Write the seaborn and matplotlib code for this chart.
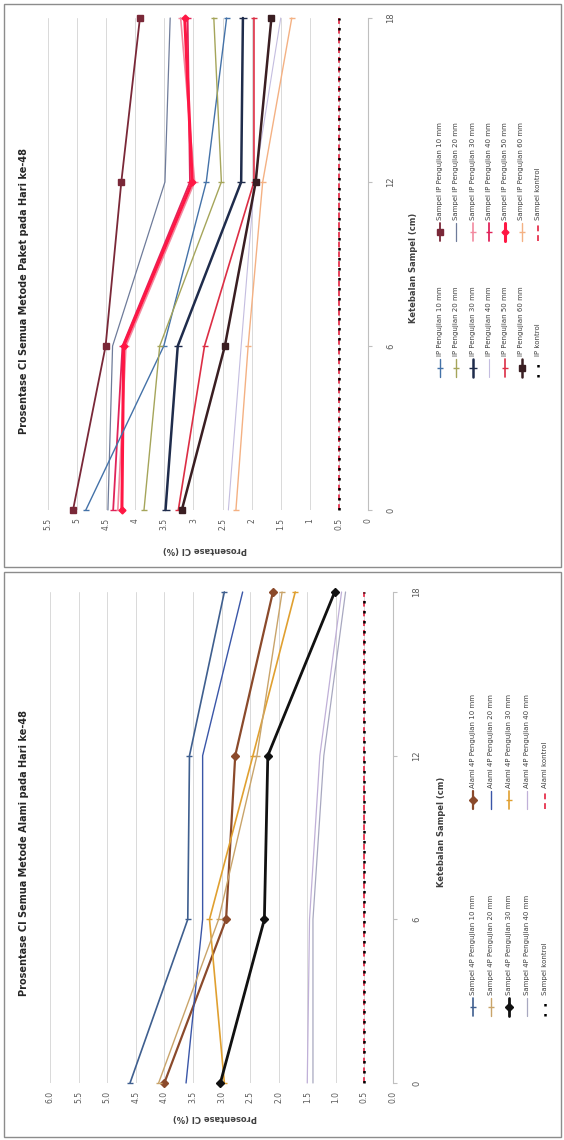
import numpy as np
import matplotlib
matplotlib.use("Agg")
import matplotlib.pyplot as plt
import seaborn as sns
from matplotlib.lines import Line2D
from matplotlib.patches import Rectangle

sns.set_style("white")
plt.rcParams["font.family"] = ["DejaVu Sans"]

# ketebalan (cm) - category axis
tebal = ["0", "6", "12", "18"]
posisi = [0, 1, 2, 3]

# value axis tick labels
paket_ticks = ["0", "0.5", "1", "1.5", "2", "2.5", "3", "3.5", "4", "4.5", "5", "5.5"]
alami_ticks = ["0.0", "0.5", "1.0", "1.5", "2.0", "2.5", "3.0", "3.5", "4.0", "4.5", "5.0", "5.5", "6.0"]

# reference level
batas = [0.5, 0.5, 0.5, 0.5]

# metode paket (top chart)
pk_s10 = [4.85, 3.51, 2.78, 2.43]
pk_s20 = [3.85, 3.58, 2.52, 2.65]
pk_s30 = [3.48, 3.27, 2.18, 2.15]
pk_s40 = [2.40, 2.18, 1.95, 1.50]
pk_s50 = [3.26, 2.81, 1.96, 1.96]
pk_s60 = [3.20, 2.46, 1.93, 1.66]
pk_ip10 = [5.07, 4.51, 4.24, 3.92]
pk_ip20 = [4.47, 4.39, 3.49, 3.40]
pk_ip30 = [4.30, 4.16, 2.98, 3.22]
pk_ip40 = [4.38, 4.22, 3.06, 3.10]
pk_ip50 = [4.23, 4.20, 3.02, 3.15]
pk_ip60 = [2.27, 2.06, 1.81, 1.31]

# metode alami (bottom chart)
al_s10 = [4.60, 3.59, 3.56, 2.95]
al_s20 = [4.10, 3.05, 2.38, 1.94]
al_s30 = [3.02, 2.25, 2.19, 1.02]
al_s40 = [1.40, 1.40, 1.21, 0.83]
al_p10 = [4.00, 2.92, 2.76, 2.10]
al_p20 = [3.62, 3.33, 3.33, 2.63]
al_p30 = [2.95, 3.21, 2.45, 1.71]
al_p40 = [1.50, 1.46, 1.28, 0.90]

DOT = dict(color="black", lw=1.8, ls=(0, (1, 3)), z=5)
DASH = dict(color="#e8405a", lw=1.4, ls=(0, (3, 2)), z=4)

paket_left = [
    ("IP Pengujian 10 mm", pk_s10, dict(color="#4472a8", lw=1.0, marker="_", ms=5)),
    ("IP Pengujian 20 mm", pk_s20, dict(color="#a5a55a", lw=1.0, marker="_", ms=5)),
    ("IP Pengujian 30 mm", pk_s30, dict(color="#1f2c4c", lw=1.8, marker="_", ms=6)),
    ("IP Pengujian 40 mm", pk_s40, dict(color="#c4bde0", lw=0.8)),
    ("IP Pengujian 50 mm", pk_s50, dict(color="#dc2e45", lw=1.2, marker="_", ms=5)),
    ("IP Pengujian 60 mm", pk_s60, dict(color="#3a1e22", lw=1.8, marker="s", ms=4.5)),
    ("IP kontrol", batas, DOT),
]
paket_right = [
    ("Sampel IP Pengujian 10 mm", pk_ip10, dict(color="#7a2838", lw=1.3, marker="s", ms=4.5)),
    ("Sampel IP Pengujian 20 mm", pk_ip20, dict(color="#6e7b9a", lw=0.9)),
    ("Sampel IP Pengujian 30 mm", pk_ip30, dict(color="#f28aa0", lw=1.2, marker="_", ms=5)),
    ("Sampel IP Pengujian 40 mm", pk_ip40, dict(color="#e0245a", lw=1.3, marker="_", ms=5)),
    ("Sampel IP Pengujian 50 mm", pk_ip50, dict(color="#ff1744", lw=2.2, marker="D", ms=3.5)),
    ("Sampel IP Pengujian 60 mm", pk_ip60, dict(color="#f4b183", lw=1.0, marker="_", ms=5)),
    ("Sampel kontrol", batas, DASH),
]
alami_left = [
    ("Sampel 4P Pengujian 10 mm", al_s10, dict(color="#3f5f8f", lw=1.2, marker="_", ms=5)),
    ("Sampel 4P Pengujian 20 mm", al_s20, dict(color="#c9a46a", lw=1.0, marker="_", ms=5)),
    ("Sampel 4P Pengujian 30 mm", al_s30, dict(color="#111111", lw=2.0, marker="D", ms=4)),
    ("Sampel 4P Pengujian 40 mm", al_s40, dict(color="#a8a8c0", lw=0.9)),
    ("Sampel kontrol", batas, DOT),
]
alami_right = [
    ("Alami 4P Pengujian 10 mm", al_p10, dict(color="#8b4a2b", lw=1.6, marker="D", ms=4)),
    ("Alami 4P Pengujian 20 mm", al_p20, dict(color="#3a56a8", lw=1.0)),
    ("Alami 4P Pengujian 30 mm", al_p30, dict(color="#e0a030", lw=1.2, marker="_", ms=5)),
    ("Alami 4P Pengujian 40 mm", al_p40, dict(color="#c0b0d8", lw=0.9)),
    ("Alami kontrol", batas, DASH),
]

W, H = 564, 1140
fig = plt.figure(figsize=(W / 100, H / 100), dpi=100)
GREY = "#595959"


def fx(px):
    return px / W


def fy(py):
    return 1 - py / H


def draw_series(ax, vals, st):
    sns.lineplot(x=vals, y=posisi, orient="y", ax=ax, color=st["color"],
                 linewidth=st["lw"], linestyle=st.get("ls", "-"),
                 marker=st.get("marker"), markersize=st.get("ms", 0),
                 markeredgecolor=st["color"], markerfacecolor=st["color"],
                 markeredgewidth=1.0, errorbar=None, legend=False,
                 clip_on=False, zorder=st.get("z", 3))


def legend_col(items, x0, dx, hy):
    for i, (lbl, vals, st) in enumerate(items):
        x = fx(x0 + i * dx)
        fig.add_artist(Line2D([x, x], [fy(hy + 9), fy(hy - 9)], color=st["color"],
                              lw=st["lw"], ls=st.get("ls", "-")))
        if st.get("marker"):
            fig.add_artist(Line2D([x], [fy(hy)], marker=st["marker"], ms=st["ms"],
                                  color=st["color"], mec=st["color"], mew=1.0))
        fig.text(x, fy(hy - 12), lbl, rotation=90, ha="center", va="bottom",
                 fontsize=5, color="#404040")


def panel(frame, box, vmax, ticklbl, left_items, right_items, title, title_y,
          ylab_pos, cat_lab_pos, cat_pad, leg):
    y0, y1 = frame
    fig.add_artist(Rectangle((fx(4), fy(y1)), 557 / W, (y1 - y0) / H,
                             transform=fig.transFigure, fill=False,
                             ec="#8c8c8c", lw=1.0))
    l, r, t, b = box
    ax = fig.add_axes([fx(l), fy(b), (r - l) / W, (b - t) / H])
    # reference lines first, then the series
    draw_series(ax, batas, DASH)
    draw_series(ax, batas, DOT)
    for lbl, vals, st in right_items[:-1] + left_items[:-1]:
        draw_series(ax, vals, st)

    ax.set_xlim(vmax, 0)
    ax.set_ylim(0, 3)
    ax.set_xticks(np.arange(0, vmax + 0.01, 0.5))
    ax.set_xticklabels(ticklbl, rotation=90, fontsize=5.5, color=GREY)
    ax.tick_params(axis="x", length=0, pad=6)
    ax.yaxis.tick_right()
    ax.set_yticks(posisi)
    ax.set_yticklabels(tebal, rotation=90, va="center", fontsize=6, color=GREY)
    ax.tick_params(axis="y", length=3, color="#bfbfbf", pad=cat_pad)
    ax.grid(axis="x", color="#d9d9d9", lw=0.7)
    for s in ["top", "left", "bottom"]:
        ax.spines[s].set_visible(False)
    ax.spines["right"].set_color("#bfbfbf")
    ax.set_xlabel("")
    ax.set_ylabel("")

    fig.text(fx(24), fy(title_y), title, rotation=90, ha="center", va="center",
             fontsize=7, fontweight="bold", color="#262626")
    fig.text(fx(ylab_pos[0]), fy(ylab_pos[1]), "Prosentase Cl (%)", rotation=180,
             ha="center", va="center", fontsize=6, fontweight="bold", color="#404040")
    fig.text(fx(cat_lab_pos[0]), fy(cat_lab_pos[1]), "Ketebalan Sampel (cm)",
             rotation=90, ha="center", va="center", fontsize=6, fontweight="bold",
             color="#404040")
    x0, dx, hy_left, hy_right = leg
    legend_col(left_items, x0, dx, hy_left)
    legend_col(right_items, x0, dx, hy_right)


panel((4, 567), (48, 368, 18, 510), 5.5, paket_ticks, paket_left, paket_right,
      "Prosentase Cl Semua Metode Paket pada Hari ke-48", 291,
      (205, 549), (414, 268), 10, (440, 16.3, 368, 232))
panel((572, 1137), (50, 393, 592, 1083), 6.0, alami_ticks, alami_left, alami_right,
      "Prosentase Cl Semua Metode Alami pada Hari ke-48", 853,
      (215, 1118), (441, 832), 11, (473, 18, 1007, 800))

fig.savefig("out.png", dpi=100, facecolor="white")
